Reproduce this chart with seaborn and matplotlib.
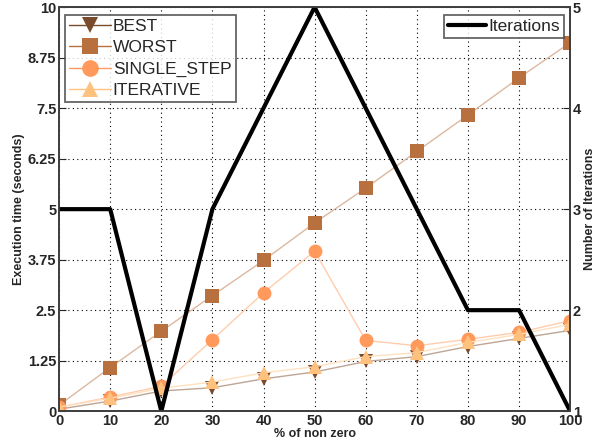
import matplotlib
matplotlib.use("Agg")
import matplotlib.pyplot as plt
import pandas as pd
import seaborn as sns

pct = [0, 10, 20, 30, 40, 50, 60, 70, 80, 90, 100]
best = [0.05, 0.25, 0.5, 0.58, 0.8, 0.97, 1.23, 1.35, 1.6, 1.8, 2.0]
worst = [0.15, 1.08, 1.98, 2.86, 3.73, 4.66, 5.52, 6.43, 7.33, 8.25, 9.12]
single_step = [0.1, 0.35, 0.62, 1.77, 2.93, 3.96, 1.75, 1.62, 1.78, 1.95, 2.24]
iterative = [0.1, 0.32, 0.57, 0.72, 0.95, 1.1, 1.35, 1.45, 1.7, 1.9, 2.15]
iterations = [3, 3, 1, 3, 4, 5, 4, 3, 2, 2, 1]

series = {
    "BEST": (best, "#7a4a2c", "v"),
    "WORST": (worst, "#b8703f", "s"),
    "SINGLE_STEP": (single_step, "#ff9a5c", "o"),
    "ITERATIVE": (iterative, "#ffc27e", "^"),
}

sns.set_style("white")
plt.rcParams["font.family"] = ["Liberation Sans", "DejaVu Sans"]

fig = plt.figure(figsize=(5.97, 4.45), dpi=100)
ax = fig.add_axes([0.099, 0.076, 0.856, 0.908])

for name, (vals, col, mk) in series.items():
    df = pd.DataFrame({"pct": pct, "t": vals})
    sns.lineplot(ax=ax, data=df, x="pct", y="t", color=col, marker=mk,
                 markersize=10, markeredgewidth=0, linewidth=1.0,
                 label=name, errorbar=None)

ax.set_xlim(0, 100)
ax.set_ylim(0, 10)
ax.set_xticks(pct)
ax.set_yticks([0, 1.25, 2.5, 3.75, 5, 6.25, 7.5, 8.75, 10])
ax.set_yticklabels(["0", "1.25", "2.5", "3.75", "5", "6.25", "7.5", "8.75", "10"])
ax.grid(True, color="black", linestyle=(0, (1, 3)), linewidth=0.8)
ax.set_axisbelow(True)
ax.set_xlabel("% of non zero", fontsize=9, fontweight="bold", labelpad=0)
ax.set_ylabel("Execution time (seconds)", fontsize=9, fontweight="bold", labelpad=2)
ax.tick_params(axis="both", labelsize=10.5, direction="in", length=5, pad=2)
for lab in ax.get_xticklabels() + ax.get_yticklabels():
    lab.set_fontweight("bold")
for sp in ax.spines.values():
    sp.set_color("#404040")
    sp.set_linewidth(1.3)

leg = ax.legend(loc="upper left", bbox_to_anchor=(0.005, 0.99), fontsize=12.5,
                frameon=True, fancybox=False, edgecolor="#404040", markerscale=1.2,
                handlelength=2.4, borderpad=0.25, labelspacing=0.35, handletextpad=0.1,
                borderaxespad=0.2)
leg.get_frame().set_linewidth(1.3)
leg.set_zorder(5)

# lighter connecting lines in the plot area, legend keeps full colour
for ln in ax.get_lines():
    c = ln.get_color()
    ln.set_markerfacecolor(c)
    ln.set_markeredgecolor(c)
    ln.set_color(sns.blend_palette([c, "white"], 3)[1])

ax2 = ax.twinx()
idf = pd.DataFrame({"pct": pct, "it": iterations})
sns.lineplot(ax=ax2, data=idf, x="pct", y="it", color="black", linewidth=3,
             label="Iterations", errorbar=None)
ax2.set_ylim(1, 5)
ax2.set_yticks([1, 2, 3, 4, 5])
ax2.set_ylabel("Number of Iterations", fontsize=9, fontweight="bold", labelpad=2)
ax2.tick_params(axis="y", labelsize=10.5, direction="in", length=5, pad=2)
for lab in ax2.get_yticklabels():
    lab.set_fontweight("bold")
for sp in ax2.spines.values():
    sp.set_color("#404040")
    sp.set_linewidth(1.3)
leg2 = ax2.legend(loc="upper right", bbox_to_anchor=(0.995, 0.99), fontsize=12.5,
                  frameon=True, fancybox=False, edgecolor="#404040",
                  handlelength=2.2, borderpad=0.25, handletextpad=0.1, borderaxespad=0.2)
leg2.get_frame().set_linewidth(1.3)

fig.savefig("out.png", dpi=100)
